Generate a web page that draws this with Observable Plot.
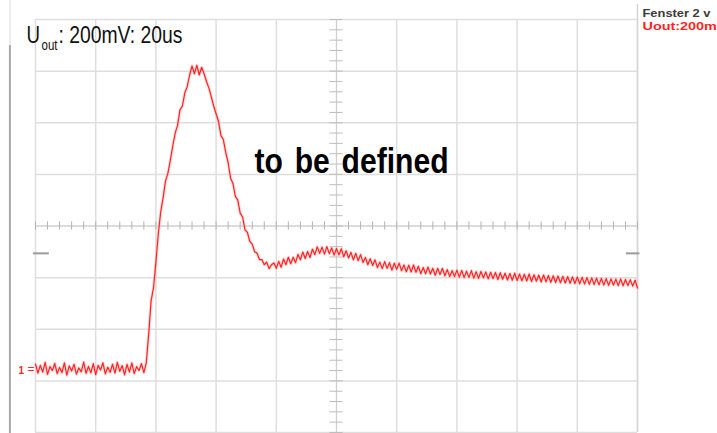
<!DOCTYPE html>
<html>
<head>
<meta charset="utf-8">
<script src="https://cdn.jsdelivr.net/npm/d3@7"></script>
<script src="https://cdn.jsdelivr.net/npm/@observablehq/plot@0.6"></script>
<style>
html, body { margin: 0; padding: 0; background: #fff; overflow: hidden; }
#chart svg { display: block; }
</style>
</head>
<body>
<div id="chart"></div>
<script>
// ---- data ----
const sampleStepUs = 0.8; // time between samples, microseconds (20 us / div, 10 div)
const voltageMv = [
  // baseline
  -535,-570,-540,-566,-528,-575,-545,-560,-532,-572,
  -548,-568,-530,-578,-542,-562,-536,-574,-550,-565,
  -527,-571,-544,-569,-533,-576,-540,-558,-530,-573,
  -547,-567,-535,-570,-528,-563,-541,-577,-536,-566,
  -530,-572,-545,-560,-533,-568,
  // rise, peak, fall
  -530,-420,-290,-240,-140,-30,55,110,175,205,
  255,310,360,390,450,465,515,540,585,620,
  590,622,585,615,590,560,535,500,465,435,
  405,350,335,285,245,185,165,115,100,50,
  35,-15,-25,-60,-70,-100,-105,-130,-130,-150,
  -140,-165,-150,
  // dip and second bump
  -143,-164,-137,-160,-128,-150,-121,-146,-121,-142,
  -110,-131,-101,-126,-99,-122,-90,-111,-81,-106,
  -82,-109,-80,-107,-85,-113,-87,-112,-88,-119,
  -96,-124,-102,-131,-106,-134,-111,-141,-122,-150,
  -127,-153,-131,-161,-140,-165,-138,-164,-142,-171,
  -144,-168,-144,-173,-151,-177,-152,-178,-151,-179,
  -156,-185,-161,-185,-159,-186,-164,-191,-164,-188,
  -164,-193,-169,-196,-173,-196,-171,
  // slow tail
  -198,-172,-200,-175,-199,-173,-202,-177,-203,-176,
  -201,-178,-205,-179,-204,-180,-207,-181,-206,-183,
  -209,-184,-210,-183,-211,-186,-212,-187,-213,-186,
  -215,-189,-214,-190,-217,-190,-216,-192,-218,-193,
  -219,-194,-220,-195,-221,-196,-222,-197,-223,-198,
  -224,-199,-225,-200,-226,-201,-227,-202,-228,-203,
  -229,-204,-230,-205,-229,-206,-231,-205,-232,-207,
  -231,-208,-233,-210,-240
];
const timeGridUs = [0, 20, 40, 60, 80, 100, 120, 140, 160, 180, 200];
const voltGridMv = [-800, -600, -400, -200, 0, 200, 400, 600, 800];
const timeMinorTicksUs = d3.range(0, 201, 4);
const voltMinorTicksMv = d3.range(-800, 801, 40);
const triggerLevelMv = -106;
const titleMain = "U";
const titleSub = "out";
const titleRest = ": 200mV: 20us";
const annotationText = "to be defined";
const windowLabel = "Fenster 2 v";
const channelLabel = "Uout:200mV";
const channelMarker = "1";
const channelArrow = "=";

const trace = voltageMv.map((v, i) => ({t: i * sampleStepUs, v}));

const narrow = '"Liberation Sans Narrow", "Arial Narrow", "Liberation Sans", Arial, sans-serif';
const sans = '"Liberation Sans", Arial, sans-serif';
const red = "#ff2424";
const gridColor = "#dedede";

const chart = Plot.plot({
  width: 717,
  height: 433,
  marginLeft: 35,
  marginRight: 80,
  marginTop: 19,
  marginBottom: 1,
  style: {background: "#fff", overflow: "hidden"},
  x: {domain: [0, 200], axis: null},
  y: {domain: [-800, 800], axis: null},
  marks: [
    // screen border on the left
    Plot.ruleX([-8.5], {y1: -805, y2: 699, stroke: "#a8a8a8", strokeWidth: 2}),
    Plot.ruleX([-8.5], {y1: 699, y2: 880, stroke: "#ececec", strokeWidth: 2}),
    // graticule
    Plot.ruleX(timeGridUs, {stroke: gridColor, strokeWidth: 1.5}),
    Plot.ruleY(voltGridMv, {stroke: gridColor, strokeWidth: 1.5}),
    Plot.ruleX([200], {y1: -800, y2: 858, stroke: "#d6d6d6", strokeWidth: 1.5}),
    Plot.ruleX([100], {stroke: "#d0d0d0", strokeWidth: 1}),
    Plot.ruleY([0], {stroke: "#cfcfcf", strokeWidth: 1.2}),
    Plot.ruleX(timeMinorTicksUs, {y1: -16, y2: 16, stroke: "#b4b4b4", strokeWidth: 1}),
    Plot.ruleY(voltMinorTicksMv, {x1: 97.8, x2: 102.2, stroke: "#bdbdbd", strokeWidth: 1}),
    // trigger level markers
    Plot.ruleY([triggerLevelMv], {x1: -0.7, x2: 4.6, stroke: "#9a9a9a", strokeWidth: 2}),
    Plot.ruleY([triggerLevelMv], {x1: 196.3, x2: 200.8, stroke: "#9a9a9a", strokeWidth: 2}),
    // trace
    Plot.line(trace, {x: "t", y: "v", stroke: "#ffb3b3", strokeWidth: 3, strokeOpacity: 0.55}),
    Plot.line(trace, {x: "t", y: "v", stroke: red, strokeWidth: 1.2}),
    // channel marker
    Plot.text([channelMarker], {frameAnchor: "top-left", dx: -17, dy: 354, lineAnchor: "bottom", textAnchor: "start", fontSize: 10, fontWeight: "bold", fontFamily: sans, fill: red}),
    Plot.text([channelArrow], {frameAnchor: "top-left", dx: -8, dy: 353, lineAnchor: "bottom", textAnchor: "start", fontSize: 12, fontFamily: sans, fill: red}),
    // title
    Plot.text([titleMain], {frameAnchor: "top-left", dx: -9, dy: 23, lineAnchor: "bottom", textAnchor: "start", fontSize: 23.5, fontFamily: narrow, fill: "#111"}),
    Plot.text([titleSub], {frameAnchor: "top-left", dx: 6, dy: 30, lineAnchor: "bottom", textAnchor: "start", fontSize: 14, fontFamily: narrow, fill: "#111"}),
    Plot.text([titleRest], {frameAnchor: "top-left", dx: 23, dy: 23, lineAnchor: "bottom", textAnchor: "start", fontSize: 23.5, fontFamily: narrow, fill: "#111"}),
    // annotation
    Plot.text([annotationText], {frameAnchor: "top-left", dx: 219, dy: 153, lineAnchor: "bottom", textAnchor: "start", fontSize: 35, fontWeight: "bold", fontFamily: narrow, fill: "#000"}),
    // top-right labels
    Plot.text([windowLabel], {frameAnchor: "top-left", dx: 607, dy: -3, lineAnchor: "bottom", textAnchor: "start", fontSize: 11.5, fontWeight: "bold", fontFamily: sans, fill: "#3a3a3a"}),
    Plot.text([channelLabel], {frameAnchor: "top-left", dx: 607, dy: 10, lineAnchor: "bottom", textAnchor: "start", fontSize: 11.5, fontWeight: "bold", fontFamily: sans, fill: red})
  ]
});

// condense / stretch texts to the widths seen in the reference
const textWidths = new Map([
  [titleMain, 13.5],
  [titleSub, 16],
  [titleRest, 124],
  [annotationText, 194],
  [windowLabel, 68],
  [channelLabel, 84]
]);
chart.querySelectorAll("text").forEach(t => {
  const len = textWidths.get(t.textContent);
  if (len !== undefined) {
    t.setAttribute("textLength", len);
    t.setAttribute("lengthAdjust", "spacingAndGlyphs");
  }
});
chart.querySelectorAll("text").forEach(t => {
  if (t.textContent === annotationText) t.setAttribute("word-spacing", "4");
});

document.getElementById("chart").appendChild(chart);
</script>
</body>
</html>
